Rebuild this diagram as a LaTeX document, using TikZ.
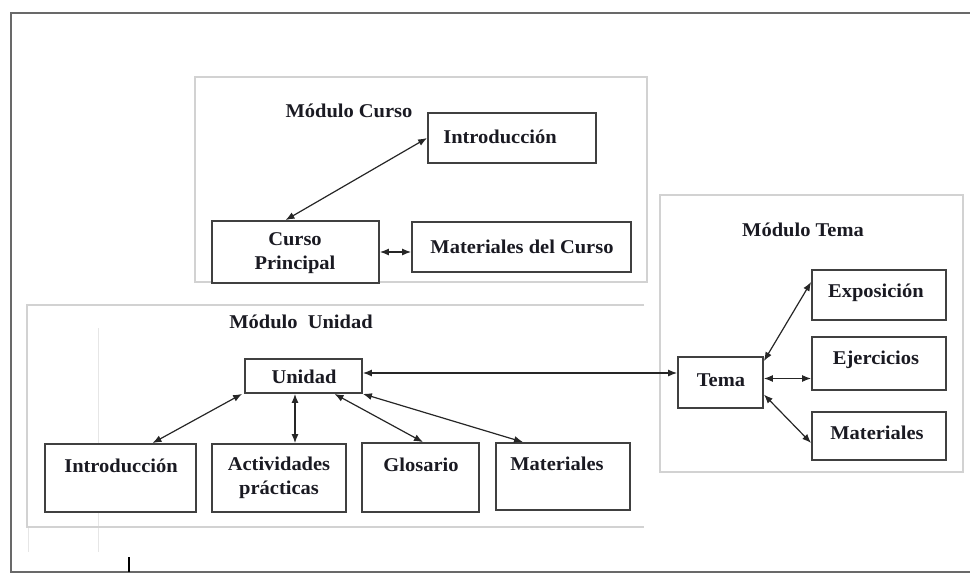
\documentclass[tikz,border=0pt]{standalone}
\usepackage{fontspec}
\setmainfont{Liberation Serif}[FakeStretch=1.05]
\usetikzlibrary{arrows.meta}
\definecolor{boxc}{RGB}{64,64,64}
\definecolor{modc}{RGB}{210,210,210}
\definecolor{framec}{RGB}{105,105,105}
\definecolor{faintc}{RGB}{230,230,230}
\definecolor{txtc}{RGB}{26,26,34}
\tikzset{
  box/.style={draw=boxc, line width=1.8pt, rectangle, inner sep=0pt, fill=white},
  txt/.style={font=\fontsize{19.5}{23.5}\selectfont\bfseries, text=txtc, align=center, inner sep=0pt},
  modbox/.style={draw=modc, line width=1.4pt},
  arr/.style={{Latex[length=9pt,width=7pt]}-{Latex[length=9pt,width=7pt]}, line width=1.2pt, draw=black!85},
}
\begin{document}
\begin{tikzpicture}[x=1pt,y=-1pt]
\useasboundingbox (0,0) rectangle (970,574);
% outer frame
\draw[framec, line width=2.2pt] (970,13) -- (11,13) -- (11,572) -- (970,572);
% faint lines
\draw[faintc, line width=1pt] (98,328) -- (98,552);
\draw[faintc, line width=1pt] (28,527) -- (28,552);
\draw[black, line width=1.6pt] (129,557) -- (129,572);
% module frames
\draw[modbox] (195,77) rectangle (647,282);
\draw[modbox] (644,305) -- (27,305) -- (27,527) -- (644,527);
\draw[modbox] (660,195) rectangle (963,472);
% titles
\node[txt] (tcurso) at (349,111) {Módulo Curso};
\node[txt] (tunidad) at (301,322) {Módulo~~Unidad};
\node[txt] (ttema) at (803,230) {Módulo Tema};
% Modulo Curso
\node[box, minimum width=168pt, minimum height=50pt] (cintro) at (512,138) {};
\node[txt] (cintrot) at (500,137) {Introducción};
\node[box, minimum width=167pt, minimum height=62pt] (cprin) at (295.5,252) {};
\node[txt] (cprint) at (295,253) {Curso\\Principal};
\node[box, minimum width=219pt, minimum height=50pt] (cmat) at (521.5,247) {};
\node[txt] (cmatt) at (522,247) {Materiales del Curso};
% Modulo Unidad
\node[box, minimum width=117pt, minimum height=34pt] (unidad) at (303.5,376) {};
\node[txt] (unidadt) at (304,377) {Unidad};
\node[box, minimum width=151pt, minimum height=68pt] (uintro) at (120.5,478) {};
\node[txt] (uintrot) at (121,466) {Introducción};
\node[box, minimum width=134pt, minimum height=68pt] (uact) at (279,478) {};
\node[txt] (uactt) at (279,478) {Actividades\\prácticas};
\node[box, minimum width=117pt, minimum height=69pt] (uglos) at (420.5,477.5) {};
\node[txt] (uglost) at (421,465) {Glosario};
\node[box, minimum width=134pt, minimum height=67pt] (umat) at (563,476.5) {};
\node[txt] (umatt) at (557,464) {Materiales};
% Modulo Tema
\node[box, minimum width=85pt, minimum height=51pt] (tema) at (720.5,382.5) {};
\node[txt] (temat) at (721,380) {Tema};
\node[box, minimum width=134pt, minimum height=50pt] (expo) at (879,295) {};
\node[txt] (expot) at (876,293) {Exposición};
\node[box, minimum width=134pt, minimum height=53pt] (ejer) at (879,363.5) {};
\node[txt] (ejert) at (876,360) {Ejercicios};
\node[box, minimum width=134pt, minimum height=48pt] (tmat) at (879,436) {};
\node[txt] (tmatt) at (877,433) {Materiales};
% connectors
\draw[arr] (cintro.west) -- ([xshift=-10pt]cprin.north);
\draw[arr] (cprin.east) -- (cprin.east -| cmat.west);
\draw[arr] ([xshift=-2pt]unidad.south west) -- ([xshift=32pt]uintro.north);
\draw[arr] ([xshift=-8.5pt]unidad.south) -- ([xshift=-8.5pt]unidad.south |- uact.north);
\draw[arr] ([xshift=31pt]unidad.south) -- ([xshift=2.5pt]uglos.north);
\draw[arr] (unidad.south east) -- ([xshift=-40pt]umat.north);
\draw[arr] ([yshift=3pt]unidad.east) -- ([yshift=3pt]unidad.east -| tema.west);
\draw[arr] ([yshift=-5pt]tema.north east) -- ([yshift=13pt]expo.west);
\draw[arr] ([yshift=4pt]tema.east) -- ([yshift=4pt]tema.east -| ejer.west);
\draw[arr] ([yshift=-12pt]tema.east) -- ([yshift=-7pt]tmat.west);
\end{tikzpicture}
\end{document}
